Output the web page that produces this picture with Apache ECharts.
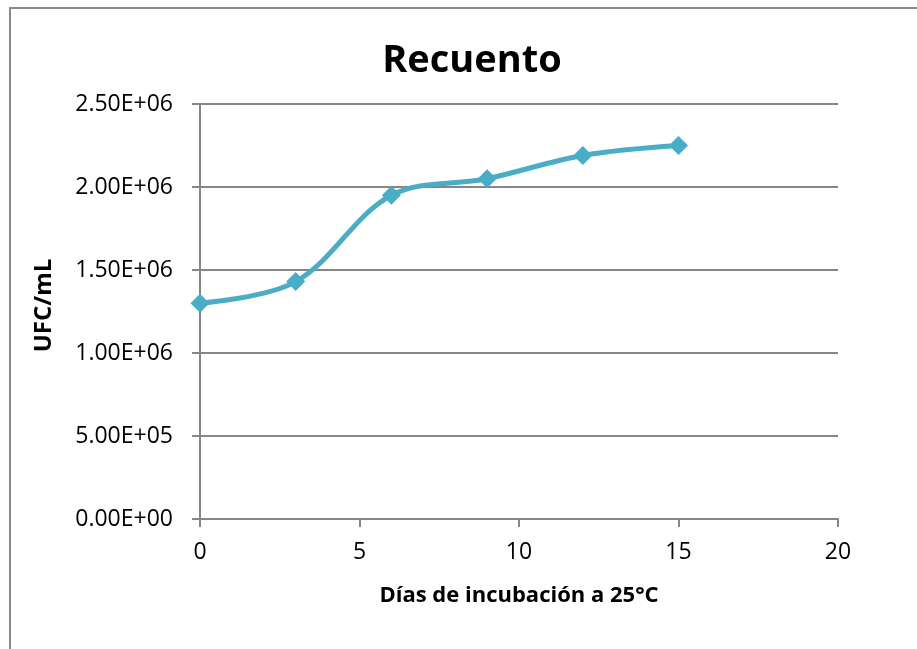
<!DOCTYPE html>
<html>
<head>
<meta charset="utf-8">
<script src="https://cdn.jsdelivr.net/npm/echarts@6/dist/echarts.min.js"></script>
<style>
  html, body { margin: 0; padding: 0; background: #ffffff; }
  #chart { width: 917px; height: 649px; }
</style>
</head>
<body>
<div id="chart"></div>
<script>
// Incubation days and plate counts (UFC/mL)
const days = [0, 3, 6, 9, 12, 15];
const ufcPerMl = [1.30e6, 1.43e6, 1.95e6, 2.05e6, 2.19e6, 2.25e6];
const yTicks = [0, 5e5, 1e6, 1.5e6, 2e6, 2.5e6];
const xTicks = [0, 5, 10, 15, 20];

const FONT = '"Open Sans", Lato, sans-serif';

// Scientific format with a two-digit exponent, e.g. 2.50E+06
function sci(v) {
  if (v === 0) return '0.00E+00';
  const exp = Math.floor(Math.log10(Math.abs(v)));
  const mant = v / Math.pow(10, exp);
  const sign = exp < 0 ? '-' : '+';
  const e = String(Math.abs(exp)).padStart(2, '0');
  return mant.toFixed(2) + 'E' + sign + e;
}

const chart = echarts.init(document.getElementById('chart'), null, { renderer: 'canvas' });

chart.setOption({
  animation: false,
  backgroundColor: '#ffffff',
  graphic: [{
    type: 'polyline',
    shape: { points: [[10, 660], [10, 8], [930, 8]] },
    style: { stroke: '#8a8a8a', lineWidth: 2, fill: null },
    silent: true
  }],
  title: {
    text: 'Recuento',
    left: 467,
    textAlign: 'center',
    top: 37,
    textStyle: { fontFamily: FONT, fontWeight: 'bold', fontSize: 38, color: '#000000' }
  },
  grid: { left: 200, right: 79, top: 104, bottom: 130, containLabel: false },
  xAxis: {
    type: 'value',
    min: xTicks[0],
    max: xTicks[xTicks.length - 1],
    interval: 5,
    name: 'Días de incubación a 25°C',
    nameLocation: 'middle',
    nameGap: 66,
    nameTextStyle: { fontFamily: FONT, fontWeight: 'bold', fontSize: 22, color: '#000000' },
    axisLine: { show: true, lineStyle: { color: '#868686', width: 2 } },
    axisTick: { show: true, inside: false, length: 8, lineStyle: { color: '#868686', width: 2 } },
    axisLabel: { fontFamily: FONT, fontSize: 23, color: '#000000', margin: 22 },
    splitLine: { show: false }
  },
  yAxis: {
    type: 'value',
    min: yTicks[0],
    max: yTicks[yTicks.length - 1],
    interval: 5e5,
    name: 'UFC/mL',
    nameLocation: 'middle',
    nameGap: 144,
    nameRotate: 90,
    nameTextStyle: { fontFamily: FONT, fontWeight: 'bold', fontSize: 24, color: '#000000', padding: [0, 0, 0, 12] },
    axisLine: { show: true, lineStyle: { color: '#868686', width: 2 } },
    axisTick: { show: true, inside: false, length: 8, lineStyle: { color: '#868686', width: 2 } },
    axisLabel: { fontFamily: FONT, fontSize: 23, color: '#000000', margin: 27, formatter: sci },
    splitLine: { show: true, lineStyle: { color: '#868686', width: 2 } }
  },
  series: [{
    type: 'line',
    data: days.map((d, i) => [d, ufcPerMl[i]]),
    smooth: 0.35,
    symbol: 'diamond',
    symbolSize: 19,
    lineStyle: { color: '#4BACC6', width: 5 },
    itemStyle: { color: '#4BACC6' },
    z: 3
  }]
});
</script>
</body>
</html>
